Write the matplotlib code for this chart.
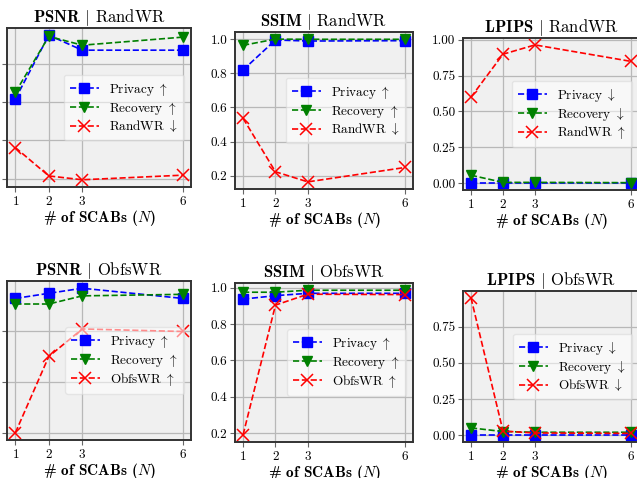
import matplotlib
matplotlib.use("Agg")
import matplotlib.pyplot as plt

plt.rcParams['font.family'] = 'serif'
plt.rcParams['font.serif'] = ['cmr10']
plt.rcParams['mathtext.fontset'] = 'cm'
plt.rcParams['axes.formatter.use_mathtext'] = True
plt.rcParams['axes.unicode_minus'] = False

n_scabs = [1, 2, 3, 6]

# top row: RandWR
psnr_rand_privacy = [30.8, 47.4, 43.5, 43.5]
psnr_rand_recovery = [32.5, 47.1, 44.8, 46.9]
psnr_rand_randwr = [18.1, 10.7, 9.7, 10.9]

ssim_rand_privacy = [0.819, 0.994, 0.988, 0.990]
ssim_rand_recovery = [0.963, 0.999, 0.998, 0.998]
ssim_rand_randwr = [0.536, 0.224, 0.165, 0.249]

lpips_rand_privacy = [0.0, 0.0, 0.0, 0.0]
lpips_rand_recovery = [0.055, 0.005, 0.005, 0.003]
lpips_rand_randwr = [0.60, 0.90, 0.965, 0.85]

# bottom row: ObfsWR
psnr_obfs_privacy = [36.4, 37.4, 38.4, 36.4]
psnr_obfs_recovery = [35.3, 35.3, 36.9, 37.2]
psnr_obfs_obfswr = [10.0, 25.0, 30.4, 29.9]

ssim_obfs_privacy = [0.938, 0.957, 0.970, 0.970]
ssim_obfs_recovery = [0.976, 0.976, 0.987, 0.987]
ssim_obfs_obfswr = [0.19, 0.905, 0.965, 0.963]

lpips_obfs_privacy = [0.0, 0.0, 0.0, 0.0]
lpips_obfs_recovery = [0.05, 0.025, 0.02, 0.02]
lpips_obfs_obfswr = [0.95, 0.028, 0.015, 0.012]

W, H = 637, 478
fig = plt.figure(figsize=(W / 100, H / 100), dpi=100)


def px_axes(x0, y0, x1, y1):
    return fig.add_axes([x0 / W, 1 - y1 / H, (x1 - x0) / W, (y1 - y0) / H])


UP = r'$\uparrow$'
DN = r'$\downarrow$'

panels = [
    # (box px, metric, wm, privacy, recovery, wr, arrows, yticks)
    ((7, 28, 191, 187), 'PSNR', 'RandWR', psnr_rand_privacy, psnr_rand_recovery, psnr_rand_randwr,
     (UP, UP, DN), [10, 20, 30, 40]),
    ((235, 32, 413, 189), 'SSIM', 'RandWR', ssim_rand_privacy, ssim_rand_recovery, ssim_rand_randwr,
     (UP, UP, DN), [0.2, 0.4, 0.6, 0.8, 1.0]),
    ((463, 38, 639, 190), 'LPIPS', 'RandWR', lpips_rand_privacy, lpips_rand_recovery, lpips_rand_randwr,
     (DN, DN, UP), [0.0, 0.25, 0.5, 0.75, 1.0]),
    ((7, 281, 191, 440), 'PSNR', 'ObfsWR', psnr_obfs_privacy, psnr_obfs_recovery, psnr_obfs_obfswr,
     (UP, UP, UP), [10, 20, 30]),
    ((235, 283, 413, 442), 'SSIM', 'ObfsWR', ssim_obfs_privacy, ssim_obfs_recovery, ssim_obfs_obfswr,
     (UP, UP, UP), [0.2, 0.4, 0.6, 0.8, 1.0]),
    ((463, 291, 639, 442), 'LPIPS', 'ObfsWR', lpips_obfs_privacy, lpips_obfs_recovery, lpips_obfs_obfswr,
     (DN, DN, DN), [0.0, 0.25, 0.5, 0.75]),
]

for box, metric, wm, priv, rec, wr, arrows, yticks in panels:
    ax = px_axes(*box)
    ax.set_facecolor('#f0f0f0')
    ax.plot(n_scabs, priv, 'bs--', ms=7, lw=1.2, label='Privacy ' + arrows[0])
    ax.plot(n_scabs, rec, 'gv--', ms=7, lw=1.2, label='Recovery ' + arrows[1])
    ax.plot(n_scabs, wr, 'rx--', ms=8, mew=1.1, lw=1.2, label=wm + ' ' + arrows[2])
    ax.set_xticks(n_scabs)
    ax.set_yticks(yticks)
    if metric == 'LPIPS':
        ax.set_yticklabels(['%.2f' % t for t in yticks])
    elif metric == 'SSIM':
        ax.set_yticklabels(['%.1f' % t for t in yticks])
    ax.grid(True, color='#b8b8b8', lw=0.9)
    ax.set_axisbelow(True)
    for s in ax.spines.values():
        s.set_color('#333333')
        s.set_linewidth(1.4)
    ax.tick_params(labelsize=9.5, color='#666666', length=3.5, pad=2)
    ax.set_title(r'$\mathbf{%s}$ $|$ %s' % (metric, wm), fontsize=12, pad=4)
    ax.set_xlabel(r'# of SCABs ($N$)', fontfamily='cmb10', fontsize=11, labelpad=0)
    ax.legend(loc='center right', fontsize=9.5, facecolor='white', framealpha=0.55,
              edgecolor='#d8d8d8', handlelength=2.2, borderpad=0.45, labelspacing=0.15,
              handletextpad=0.8)

fig.savefig('out.png', dpi=100)
